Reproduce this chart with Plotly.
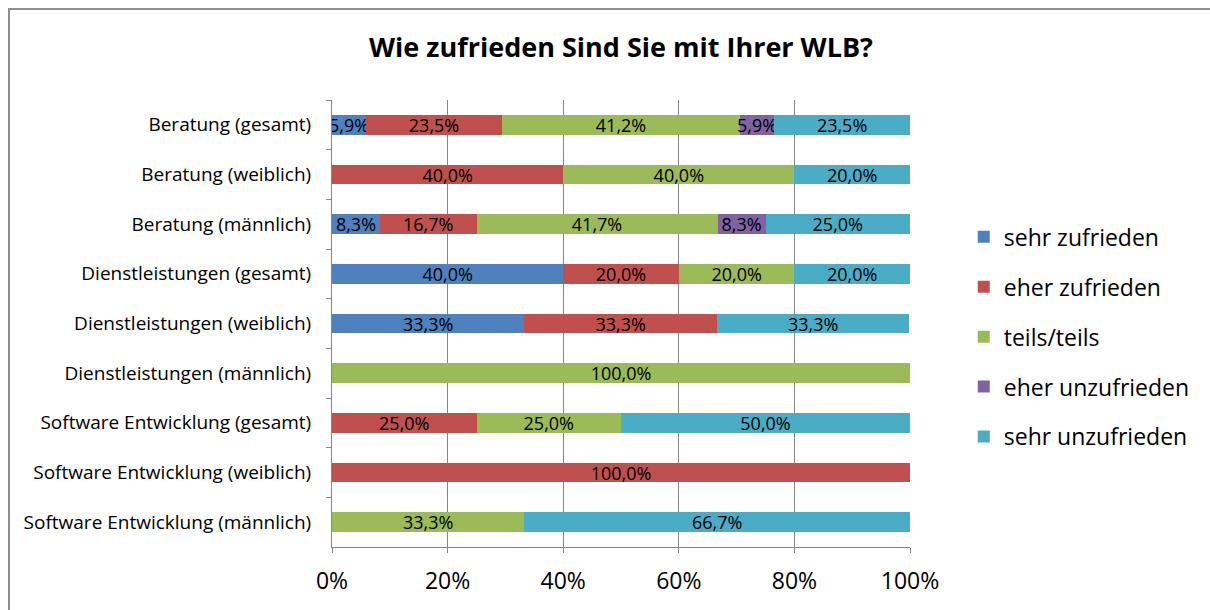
import plotly.graph_objects as go

categories = [
    "Beratung (gesamt)",
    "Beratung (weiblich)",
    "Beratung (männlich)",
    "Dienstleistungen (gesamt)",
    "Dienstleistungen (weiblich)",
    "Dienstleistungen (männlich)",
    "Software Entwicklung (gesamt)",
    "Software Entwicklung (weiblich)",
    "Software Entwicklung (männlich)",
]
series_names = ["sehr zufrieden", "eher zufrieden", "teils/teils", "eher unzufrieden", "sehr unzufrieden"]
sehr_zufrieden = [5.9, 0, 8.3, 40.0, 33.3, 0, 0, 0, 0]
eher_zufrieden = [23.5, 40.0, 16.7, 20.0, 33.3, 0, 25.0, 100.0, 0]
teils_teils = [41.2, 40.0, 41.7, 20.0, 0, 100.0, 25.0, 0, 33.3]
eher_unzufrieden = [5.9, 0, 8.3, 0, 0, 0, 0, 0, 0]
sehr_unzufrieden = [23.5, 20.0, 25.0, 20.0, 33.3, 0, 50.0, 0, 66.7]
colors = ["#4F81BD", "#C0504D", "#9BBB59", "#8064A2", "#4BACC6"]
x_ticks = [0, 20, 40, 60, 80, 100]

FONT = "Open Sans"
fig = go.Figure()
for name, vals, col in zip(series_names,
                           [sehr_zufrieden, eher_zufrieden, teils_teils, eher_unzufrieden, sehr_unzufrieden],
                           colors):
    xs = [v if v > 0 else None for v in vals]
    txt = [("%.1f%%" % v).replace(".", ",") if v > 0 else "" for v in vals]
    fig.add_trace(go.Bar(
        y=categories, x=xs, name=name, orientation="h",
        marker=dict(color=col, line=dict(width=0)),
        text=txt, textposition="inside", insidetextanchor="middle",
        textfont=dict(color="black", size=18, family=FONT),
        legendgroup=name, hoverinfo="skip",
    ))

fig.update_layout(
    barmode="stack", bargap=0.6,
    width=1210, height=610,
    margin=dict(l=332, r=300, t=100, b=63),
    paper_bgcolor="white", plot_bgcolor="white",
    font=dict(family=FONT, color="black"),
    title=dict(text="<b>Wie zufrieden Sind Sie mit Ihrer WLB?</b>", x=0.5, xref="paper",
               y=1 - 48 / 610, yanchor="middle", font=dict(size=27, family=FONT)),
    uniformtext=dict(minsize=18, mode="show"),
    legend=dict(x=1.093, xanchor="left", y=0.47, yanchor="middle",
                font=dict(size=23, family=FONT), tracegroupgap=17,
                itemwidth=30, traceorder="grouped"),
    showlegend=True,
)
fig.update_xaxes(range=[0, 100], tickvals=x_ticks, ticktext=[f"{t}%" for t in x_ticks],
                 showgrid=True, gridcolor="#868686", gridwidth=1,
                 showline=True, linecolor="#868686", linewidth=1,
                 ticks="outside", ticklen=5, tickcolor="#868686", ticklabelstandoff=8,
                 tickfont=dict(size=23, family=FONT), zeroline=False)
fig.update_yaxes(categoryorder="array", categoryarray=categories, autorange="reversed",
                 showline=True, linecolor="#868686", linewidth=1,
                 ticks="outside", ticklen=5, tickcolor="#868686", tickson="boundaries",
                 ticklabelstandoff=16,
                 tickfont=dict(size=19, family=FONT), showgrid=False)

fig.add_shape(type="rect", xref="paper", yref="paper",
              x0=(9 - 332) / 578, x1=(1220 - 332) / 578,
              y0=(547 - 620) / 447, y1=(547 - 9) / 447,
              line=dict(color="#8E8E8E", width=2), fillcolor="rgba(0,0,0,0)", layer="below")

fig.write_html("out.html", config={"displayModeBar": False},
               post_script="document.body.style.margin='0px';")
